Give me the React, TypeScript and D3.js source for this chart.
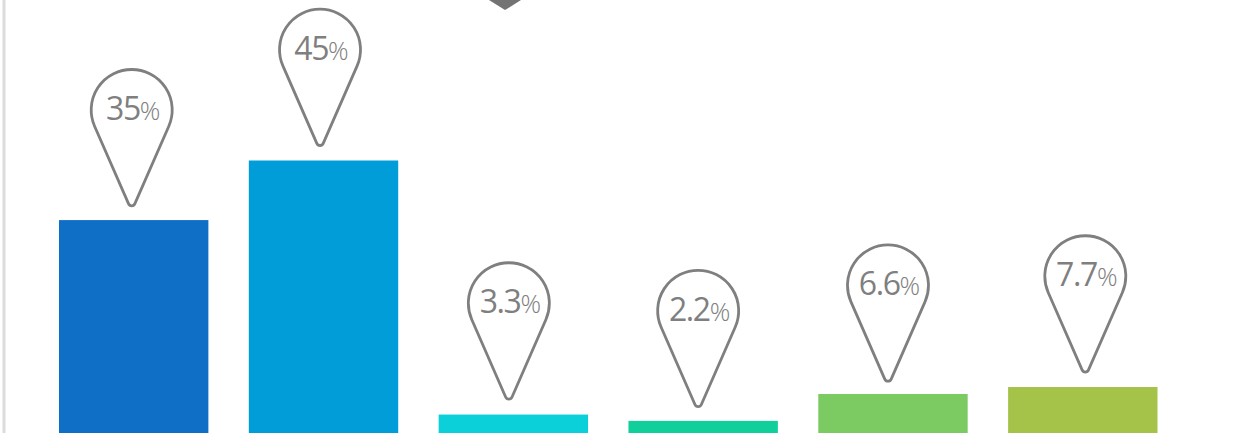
import React, { useEffect, useRef } from "react";
import * as d3 from "d3";

// printed labels
const labels = ["35", "45", "3.3", "2.2", "6.6", "7.7"];
// bar heights as drawn, in percent (the picture does not quite follow its labels)
const barValues = [35.2, 45.05, 3.05, 2.0, 6.45, 7.6];
const colors = ["#0f6fc6", "#009dd9", "#0bd0d9", "#10cf9b", "#7cca62", "#a5c249"];
// pins are not centred on their bars in the original, nor evenly spaced above them
const pinShift = [-2, -3.5, -4.5, -5, -5, 2.5];
const pinGap = [14.3, 15, 15.5, 14.3, 12.8, 15];

const App = () => {
  const ref = useRef<SVGSVGElement>(null);

  useEffect(() => {
    const width = 1249;
    const height = 433;
    const svg = d3.select(ref.current);
    svg.selectAll("*").remove();

    const x = d3
      .scaleBand<string>()
      .domain(labels)
      .range([59, 1157.5])
      .paddingInner(0.213);
    const y = d3.scaleLinear().domain([0, 45.05]).range([height, 160.5]);

    // left axis line and the small marker at the top
    svg
      .append("line")
      .attr("x1", 4)
      .attr("x2", 4)
      .attr("y1", 0)
      .attr("y2", height)
      .attr("stroke", "#dcdcdc")
      .attr("stroke-width", 3);
    svg
      .append("path")
      .attr("d", "M489,0L521,0L505,10Z")
      .attr("fill", "#737373");

    const bars = labels.map((label, i) => ({
      label,
      value: barValues[i],
      color: colors[i],
      shift: pinShift[i],
      gap: pinGap[i],
    }));

    svg
      .append("g")
      .selectAll("rect")
      .data(bars)
      .join("rect")
      .attr("x", (d) => x(d.label)!)
      .attr("y", (d) => y(d.value))
      .attr("width", x.bandwidth())
      .attr("height", (d) => y(0) - y(d.value))
      .attr("fill", (d) => d.color);

    // pin outline, tip at the origin
    const R = 40.5;
    const r = 3.5;
    const dist = 92.3;
    const a = Math.asin((R - r) / dist);
    const pin = d3.path();
    pin.arc(0, -r, r, Math.PI - a, a, true);
    pin.arc(0, -r - dist, R, a, Math.PI - a, true);
    pin.closePath();

    const pins = svg
      .append("g")
      .selectAll("g")
      .data(bars)
      .join("g")
      .attr(
        "transform",
        (d) => `translate(${x(d.label)! + x.bandwidth() / 2 + d.shift},${y(d.value) - d.gap})`
      );

    pins
      .append("path")
      .attr("d", pin.toString())
      .attr("fill", "#fff")
      .attr("stroke", "#7f7f7f")
      .attr("stroke-width", 2.8);

    const text = pins
      .append("text")
      .attr("x", 1.5)
      .attr("y", -86)
      .attr("text-anchor", "middle")
      .attr("fill", "#7f7f7f")
      .style("font-family", "'Open Sans'");
    text
      .append("tspan")
      .attr("font-size", 32)
      .attr("letter-spacing", -1.4)
      .text((d) => d.label);
    text
      .append("tspan")
      .attr("font-size", 25.5)
      .attr("font-weight", 300)
      .text("%");
  }, []);

  return (
    <svg
      ref={ref}
      width={1249}
      height={433}
      style={{ position: "absolute", left: 0, top: 0, background: "#fff" }}
    />
  );
};

export default App;
